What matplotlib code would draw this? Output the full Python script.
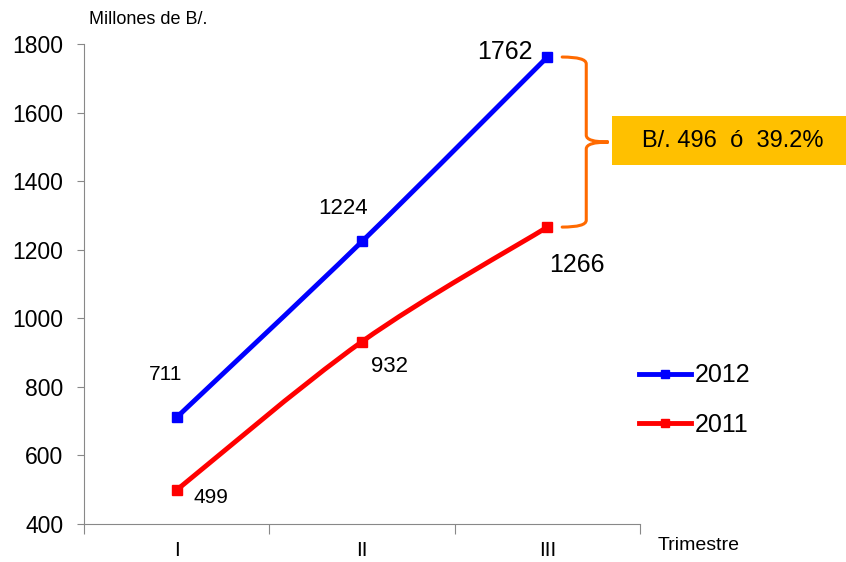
import numpy as np
import matplotlib
matplotlib.use('Agg')
import matplotlib.pyplot as plt
from matplotlib.path import Path
from matplotlib.patches import PathPatch, Rectangle
from matplotlib.lines import Line2D

plt.rcParams['font.family'] = ['Liberation Sans', 'DejaVu Sans']

trimestres = ['I', 'II', 'III']
v2012 = [711, 1224, 1762]
v2011 = [499, 932, 1266]
diff_label = 'B/. 496  ó  39.2%'

x = np.arange(len(trimestres))


def smooth_path(xs, ys):
    # smoothed line like the spreadsheet one (Catmull-Rom as Bezier)
    p = np.column_stack([xs, ys]).astype(float)
    pp = np.vstack([p[0], p, p[-1]])
    verts = [p[0]]
    codes = [Path.MOVETO]
    for i in range(len(p) - 1):
        c1 = pp[i + 1] + (pp[i + 2] - pp[i]) / 6
        c2 = pp[i + 2] - (pp[i + 3] - pp[i + 1]) / 6
        verts += [c1, c2, pp[i + 2]]
        codes += [Path.CURVE4] * 3
    return Path(verts, codes)


fig = plt.figure(figsize=(8.46, 5.62), dpi=100)
ax = fig.add_axes([84/846, 1-524/562, (640-84)/846, (524-44)/562])

handles = []
for vals, col, lab in [(v2012, '#0000FF', '2012'), (v2011, '#FF0000', '2011')]:
    ax.add_patch(PathPatch(smooth_path(x, vals), fill=False, edgecolor=col,
                           lw=3.5, capstyle='round'))
    ax.plot(x, vals, ls='none', marker='s', ms=6.5, color=col)
    handles.append(Line2D([], [], color=col, lw=3.5, marker='s', ms=5.5, label=lab))

ax.set_xlim(-0.5, 2.5)
ax.set_ylim(400, 1800)
ax.set_yticks(np.arange(400, 1801, 200))
ax.tick_params(axis='y', labelsize=16.5, length=5, pad=10, color='#888888')
ax.set_xticks([-0.5, 0.5, 1.5, 2.5])
ax.set_xticklabels([])
ax.set_xticks(x, minor=True)
ax.set_xticklabels(trimestres, minor=True, fontsize=15)
ax.tick_params(axis='x', which='minor', length=0, pad=12)
ax.tick_params(axis='x', which='major', length=7, color='#888888')
for s in ['top', 'right']:
    ax.spines[s].set_visible(False)
for s in ['left', 'bottom']:
    ax.spines[s].set_color('#888888')

# data labels
ax.text(-0.06, 711 + 124, '711', fontsize=15, ha='center', va='center')
ax.text(0.90, 1224 + 95, '1224', fontsize=16, ha='center', va='center')
ax.text(1.77, 1762 + 14, '1762', fontsize=18, ha='center', va='center')
ax.text(0.09, 499 - 22, '499', fontsize=15, ha='left', va='center')
ax.text(1.05, 932 - 72, '932', fontsize=16, ha='left', va='center')
ax.text(2.01, 1266 - 110, '1266', fontsize=18, ha='left', va='center')

fig.text(89/846, 1-20/562, 'Millones de B/.', fontsize=13, ha='left', va='center')
fig.text(658/846, 1-545/562, 'Trimestre', fontsize=14, ha='left', va='center')

# brace
x0, x1, xt = 2.08, 2.21, 2.33
ytop, ybot = v2012[2], v2011[2]
ymid = (ytop + ybot) / 2
r = 20
verts = [(x0, ytop), (x1, ytop), (x1, ytop - r),
         (x1, ymid + r), (x1, ymid), (xt, ymid),
         (x1, ymid), (x1, ymid - r),
         (x1, ybot + r), (x1, ybot), (x0, ybot)]
codes = [Path.MOVETO, Path.CURVE3, Path.CURVE3,
         Path.LINETO, Path.CURVE3, Path.CURVE3,
         Path.CURVE3, Path.CURVE3,
         Path.LINETO, Path.CURVE3, Path.CURVE3]
ax.add_patch(PathPatch(Path(verts, codes), fill=False, edgecolor='#FF6A00',
                       lw=2.2, clip_on=False, capstyle='round'))

fig.patches.append(Rectangle((612/846, 1-165/562), 234/846, 49/562,
                             transform=fig.transFigure, facecolor='#FFC000',
                             edgecolor='none'))
fig.text(733/846, 1-141/562, diff_label, fontsize=17, ha='center', va='center')

ax.legend(handles=handles, loc='center left', bbox_to_anchor=(616/846, 1-400/562),
          bbox_transform=fig.transFigure, frameon=False, fontsize=18,
          handlelength=2.1, handletextpad=0.15, labelspacing=1.0)

plt.savefig('out.png')
